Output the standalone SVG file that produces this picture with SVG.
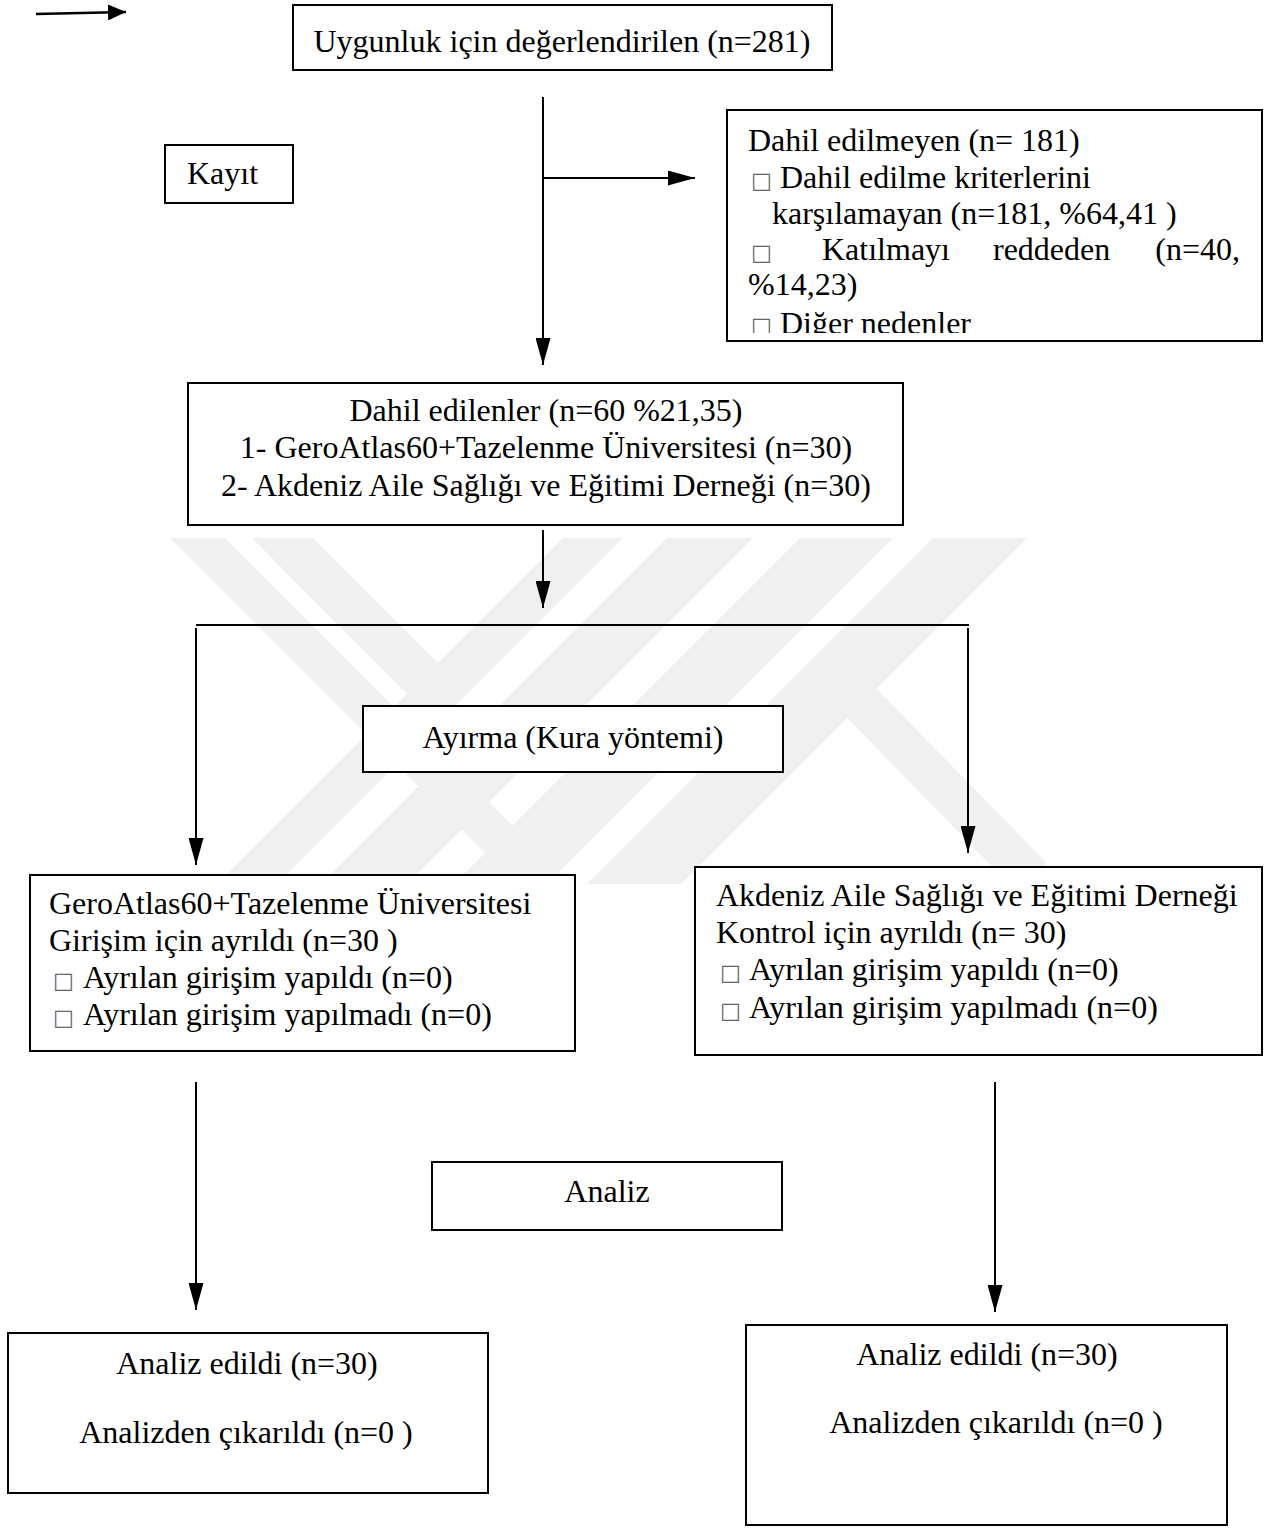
<svg xmlns="http://www.w3.org/2000/svg" width="1269" height="1528" viewBox="0 0 1269 1528">
<style>
  .box { fill: #ffffff; stroke: #000000; stroke-width: 2; }
  .t { font-family: "Liberation Serif", "Times New Roman", serif; font-size: 32px; fill: #000000; }
  .c { text-anchor: middle; }
  .bx { font-family: "DejaVu Sans", "Liberation Sans", sans-serif; font-size: 22px; fill: #666666; }
  .ln { stroke: #000000; stroke-width: 2; fill: none; }
  .arr { stroke: #000000; stroke-width: 2; fill: none; marker-end: url(#ah); }
  .wm { fill: #f0f0f0; }
</style>
<defs>
  <marker id="ah" viewBox="0 0 27 15" refX="27" refY="7.5" markerWidth="27" markerHeight="15" markerUnits="userSpaceOnUse" orient="auto">
    <path d="M0,0 L27,7.5 L0,15 Z" fill="#000000"/>
  </marker>
  <marker id="ah2" viewBox="0 0 18 16" refX="18" refY="8" markerWidth="18" markerHeight="16" markerUnits="userSpaceOnUse" orient="auto">
    <path d="M0,0 L18,8 L0,16 Z" fill="#000000"/>
  </marker>
  <clipPath id="wmclip"><rect x="165" y="536" width="880" height="348"/></clipPath>
  <clipPath id="exclip"><rect x="728" y="111" width="533" height="222"/></clipPath>
</defs>
<rect x="0" y="0" width="1269" height="1528" fill="#ffffff"/>

<g id="watermark" clip-path="url(#wmclip)">
  <polygon class="wm" points="170,538 225,538 625,938 570,938"/>
  <polygon class="wm" points="252,538 313,538 438,663 407,694"/>
  <polygon class="wm" points="563,538 623,538 223,938 163,938"/>
  <polygon class="wm" points="667,538 753,538 353,938 267,938"/>
  <polygon class="wm" points="800,538 893,538 493,938 400,938"/>
  <polygon class="wm" points="933,538 1027,538 627,938 533,938"/>
  <polygon class="wm" points="810,680 868,680 1120,938 1062,938"/>
</g>

<g id="connectors">
  <line x1="36" y1="14" x2="126" y2="12" stroke="#000000" stroke-width="2.5" marker-end="url(#ah2)"/>
  <line class="arr" x1="543" y1="97" x2="543" y2="365"/>
  <line class="arr" x1="543" y1="178" x2="695" y2="178"/>
  <line class="arr" x1="543" y1="530" x2="543" y2="608"/>
  <line class="ln" x1="196" y1="625" x2="969" y2="625"/>
  <line class="arr" x1="196" y1="628" x2="196" y2="865"/>
  <line class="arr" x1="968" y1="628" x2="968" y2="853"/>
  <line class="arr" x1="196" y1="1082" x2="196" y2="1310"/>
  <line class="arr" x1="995" y1="1082" x2="995" y2="1312"/>
</g>

<g id="node-uygunluk">
  <rect class="box" x="293" y="5" width="539" height="65"/>
  <text class="t c" x="562" y="52">Uygunluk için değerlendirilen (n=281)</text>
</g>

<g id="node-kayit">
  <rect class="box" x="165" y="145" width="128" height="58"/>
  <text class="t" x="187" y="184">Kayıt</text>
</g>

<g id="node-dahil-edilmeyen">
  <rect class="box" x="727" y="110" width="535" height="231"/>
  <g clip-path="url(#exclip)">
    <text class="t" x="748" y="151">Dahil edilmeyen (n= 181)</text>
    <text class="bx" x="751" y="188">□</text>
    <text class="t" x="780" y="188">Dahil edilme kriterlerini</text>
    <text class="t" x="772" y="224">karşılamayan (n=181, %64,41 )</text>
    <text class="bx" x="751" y="260">□</text>
    <text class="t" x="822" y="260">Katılmayı</text>
    <text class="t" x="993" y="260">reddeden</text>
    <text class="t" x="1240" y="260" text-anchor="end">(n=40,</text>
    <text class="t" x="748" y="295">%14,23)</text>
    <text class="bx" x="751" y="333">□</text>
    <text class="t" x="780" y="334">Diğer nedenler</text>
  </g>
</g>

<g id="node-dahil-edilenler">
  <rect class="box" x="188" y="383" width="715" height="142"/>
  <text class="t c" x="546" y="421">Dahil edilenler (n=60 %21,35)</text>
  <text class="t c" x="546" y="458">1- GeroAtlas60+Tazelenme Üniversitesi (n=30)</text>
  <text class="t c" x="546" y="496">2- Akdeniz Aile Sağlığı ve Eğitimi Derneği (n=30)</text>
</g>

<g id="node-ayirma">
  <rect class="box" x="363" y="706" width="420" height="66"/>
  <text class="t c" x="573" y="748">Ayırma (Kura yöntemi)</text>
</g>

<g id="node-girisim">
  <rect class="box" x="30" y="875" width="545" height="176"/>
  <text class="t" x="49" y="914">GeroAtlas60+Tazelenme Üniversitesi</text>
  <text class="t" x="49" y="951">Girişim için ayrıldı (n=30 )</text>
  <text class="bx" x="53" y="988">□</text>
  <text class="t" x="83" y="988">Ayrılan girişim yapıldı (n=0)</text>
  <text class="bx" x="53" y="1025">□</text>
  <text class="t" x="83" y="1025">Ayrılan girişim yapılmadı (n=0)</text>
</g>

<g id="node-kontrol">
  <rect class="box" x="695" y="867" width="567" height="188"/>
  <text class="t" x="716" y="906">Akdeniz Aile Sağlığı ve Eğitimi Derneği</text>
  <text class="t" x="716" y="943">Kontrol için ayrıldı (n= 30)</text>
  <text class="bx" x="720" y="980">□</text>
  <text class="t" x="749" y="980">Ayrılan girişim yapıldı (n=0)</text>
  <text class="bx" x="720" y="1018">□</text>
  <text class="t" x="749" y="1018">Ayrılan girişim yapılmadı (n=0)</text>
</g>

<g id="node-analiz">
  <rect class="box" x="432" y="1162" width="350" height="68"/>
  <text class="t c" x="607" y="1202">Analiz</text>
</g>

<g id="node-analiz-sol">
  <rect class="box" x="8" y="1333" width="480" height="160"/>
  <text class="t c" x="247" y="1374">Analiz edildi (n=30)</text>
  <text class="t c" x="246" y="1443">Analizden çıkarıldı (n=0 )</text>
</g>

<g id="node-analiz-sag">
  <rect class="box" x="746" y="1325" width="481" height="200"/>
  <text class="t c" x="987" y="1365">Analiz edildi (n=30)</text>
  <text class="t c" x="996" y="1433">Analizden çıkarıldı (n=0 )</text>
</g>
</svg>
